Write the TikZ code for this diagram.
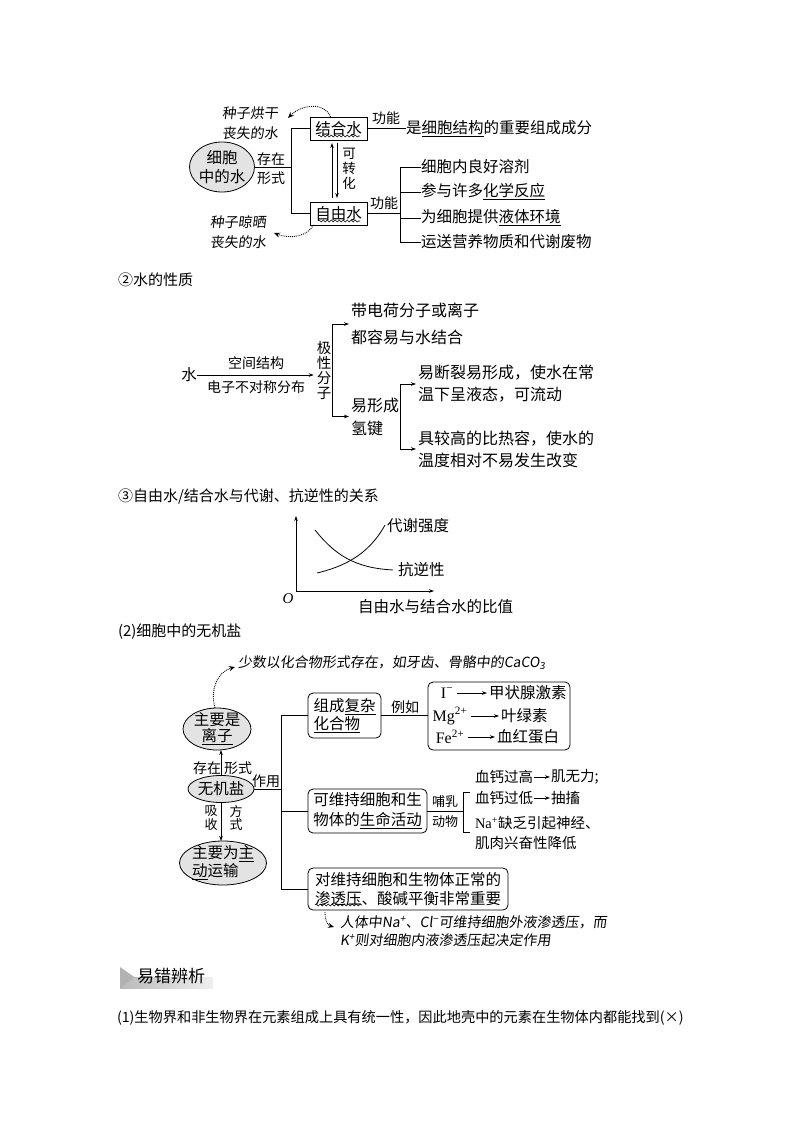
\documentclass[tikz,border=0pt]{standalone}
\usepackage{fontspec}
\setmainfont{Noto Sans CJK SC}
\newfontfamily\tnr{Liberation Serif}
\newfontfamily\hand{Noto Sans CJK SC}[FakeSlant=0.12]
\usetikzlibrary{shapes.geometric,arrows.meta,decorations.pathmorphing,calc}
\newcommand{\myfs}[2]{\fontsize{#1}{#2}\selectfont}
\tikzset{
  every node/.style={inner sep=0pt, outer sep=0pt, font=\myfs{15.5}{20}},
  lbl/.style={font=\myfs{14}{16}},
  hw/.style={font=\hand\myfs{14}{20}, align=center},
  oval/.style={ellipse, draw, fill=gray!22, line width=0.8pt, inner sep=0pt},
  sqbox/.style={draw, line width=0.8pt, inner sep=0pt},
  rbox/.style={draw, rounded corners=5pt, line width=0.8pt, inner sep=0pt},
  ln/.style={line width=0.8pt},
  arr/.style={line width=0.8pt, -{Stealth[length=5pt,width=3.5pt]}},
  dotarr/.style={line width=0.9pt, densely dotted, -{Stealth[length=6pt,width=5pt]}},
  wav/.style={decorate, decoration={snake, amplitude=1pt, segment length=4pt}, line width=0.6pt},
  hdr/.style={anchor=west, font=\myfs{15}{18}},
  mam/.style={anchor=west, font=\myfs{14.5}{20}},
}
\begin{document}
\begin{tikzpicture}[x=1pt,y=-1pt]
\useasboundingbox (0,0) rectangle (794,1123);
\fill[white] (0,0) rectangle (794,1123);

% ================= top: water in the cell =================
\node[oval, minimum width=65pt, minimum height=50pt] (cw) at (222,167) {};
\node[align=center, font=\myfs{15.5}{19}] (cwt) at (cw) {细胞\\中的水};
\node[sqbox, minimum width=57pt, minimum height=23pt] (jh) at (338.5,128.5) {结合水};
\node[sqbox, minimum width=57pt, minimum height=23pt] (zy) at (338.5,213.5) {自由水};
\draw[wav] ($(jh.south west)+(8,-4)$) -- ($(jh.south east)+(-7,-4)$);
\draw[wav] ($(zy.south west)+(8,-4)$) -- ($(zy.south east)+(-7,-4)$);

\coordinate (bus0) at (291,167);
\draw[ln] (cw.east) -- (bus0);
\draw[ln] (jh.west) -| (bus0);
\draw[ln] (zy.west) -| (bus0);
\node[lbl] (cz1) at (271,159) {存在};
\node[lbl] (xs1) at (271,178) {形式};

\draw[arr, shorten <=4pt, shorten >=3pt] ($(zy.north)+(-6.5,0)$) -- ($(jh.south)+(-6.5,0)$);
\draw[arr, shorten <=3pt, shorten >=4pt] ($(jh.south)+(-1.5,0)$) -- ($(zy.north)+(-1.5,0)$);
\node[align=center, font=\myfs{13.5}{15}] (kzh) at (349,169) {可\\转\\化};

\node[anchor=west] (f1) at (406,128.5) {是\underline{细胞结构}的重要组成成分};
\draw[ln] (jh.east) -- (f1.west);
\node[lbl] (gn1) at (386,118) {功能};
\node[lbl] (gn2) at (384,203) {功能};

\coordinate (br1) at (400,213.5);
\draw[ln] (zy.east) -- (br1);
\node[anchor=west] (g1) at (421,167) {细胞内良好溶剂};
\node[anchor=west] (g2) at (421,192) {参与许多\underline{化学反应}};
\node[anchor=west] (g3) at (421,218) {为细胞提供\underline{液体环境}};
\node[anchor=west] (g4) at (421,242) {运送营养物质和代谢废物};
\draw[ln] (g1.west) -- (g1.west -| br1) -- (g4.west -| br1) -- (g4.west);
\draw[ln] (g2.west) -- (g2.west -| br1);
\draw[ln] (g3.west) -- (g3.west -| br1);

\node[hw] (h1) at (250,123) {种子烘干\\丧失的水};
\draw[dotarr] ($(jh.north)+(-8,0)$) .. controls (325,102) and (302,104) .. ($(h1.east)+(10,-5)$);
\node[hw] (h2) at (238,232) {种子晾晒\\丧失的水};
\draw[dotarr] ($(zy.south)+(-25,0)$) .. controls (307,237) and (290,239) .. ($(h2.east)+(8,1)$);

% ================= water properties =================
\node[hdr] (s2) at (118,280) {②水的性质};
\node (w) at (189,375) {水};
\node[align=center, font=\myfs{14.5}{15}] (pol) at (324,370) {极\\性\\分\\子};
\draw[arr, shorten >=3pt] (w.east) -- (w.east -| pol.west);
\node[lbl] (kj) at (256,363) {空间结构};
\node[lbl] (dz) at (256,387) {电子不对称分布};

\node[anchor=west, align=left, font=\myfs{16}{27}] (p1) at (351,324) {带电荷分子或离子\\都容易与水结合};
\node[anchor=west, align=left, font=\myfs{16}{23}] (p2) at (351,416.5) {易形成\\氢键};
\coordinate (bk1) at (332,370);
\draw[arr, shorten >=2pt] (bk1) |- (p1.west);
\draw[arr, shorten >=2pt] (bk1) |- (p2.west);

\node[anchor=west, align=left, font=\myfs{16}{22}] (p3) at (418,384) {易断裂易形成，使水在常\\温下呈液态，可流动};
\node[anchor=west, align=left, font=\myfs{16}{22}] (p4) at (418,449) {具较高的比热容，使水的\\温度相对不易发生改变};
\coordinate (bk2) at (400,416.5);
\draw[arr, shorten >=2pt] (bk2) |- (p3.west);
\draw[arr, shorten >=2pt] (bk2) |- (p4.west);

% ================= graph =================
\node[hdr] (s3) at (118,496) {③自由水/结合水与代谢、抗逆性的关系};
\coordinate (O) at (296,591);
\coordinate (ytop) at (296,516);
\coordinate (xend) at (434,591);
\draw[arr] (O) -- (ytop);
\draw[arr] (O) -- (xend);
\node[font=\tnr\itshape\myfs{15}{16}] (Ol) at (288,599) {O};
\coordinate (c1a) at (317,573);
\coordinate (c1b) at (385,525);
\coordinate (c2a) at (315,530);
\coordinate (c2b) at (393,570);
\draw[ln] (c1a) .. controls (342,567) and (368,556) .. (c1b);
\draw[ln] (c2a) .. controls (335,555) and (355,568) .. (c2b);
\node[anchor=west] (lb1) at (387,526) {代谢强度};
\node[anchor=west] (lb2) at (398,570) {抗逆性};
\node[anchor=west] (lb3) at (358,607) {自由水与结合水的比值};

% ================= inorganic salts =================
\node[hdr] (s4) at (118,632) {(2)细胞中的无机盐};

\node[oval, minimum width=68pt, minimum height=42pt] (e1) at (217,729) {};
\node[align=center, font=\myfs{15.5}{16}] (e1t) at (e1) {主要是\\\underline{离子}};
\node[oval, minimum width=66pt, minimum height=27pt] (e2) at (221,789) {};
\node (e2t) at (e2) {无机盐};
\node[oval, minimum width=87pt, minimum height=44pt] (e3) at (223,863) {};
\node[align=left, font=\myfs{15.5}{18}] (e3t) at (e3) {主要为\underline{主}\\\underline{动}运输};

\draw[arr] (e2.north) -- (e2.north |- e1.south);
\draw[arr] (e2.south) -- (e2.south |- e3.north);
\node[lbl] (cz2) at (207,768) {存在};
\node[lbl] (xs2) at (238,768) {形式};
\node[align=center, font=\myfs{13}{13.5}] (xsh) at (211,818) {吸\\收};
\node[align=center, font=\myfs{13}{13.5}] (fsh) at (236,818) {方\\式};

\node[hw, anchor=west] (h3) at (238,663) {少数以化合物形式存在，如牙齿、骨骼中的CaCO\textsubscript{3}};
\draw[dotarr] ($(e1.north)+(-2,0)$) .. controls (210,690) and (217,672) .. ($(h3.west)+(-3,4)$);

\node[lbl] (zyy) at (266,781) {作用};
\coordinate (bus2) at (281,789);
\draw[ln] (e2.east) -- (bus2);

\node[rbox, minimum width=73pt, minimum height=45pt, align=left, font=\myfs{15.5}{18}] (b1) at (344.5,715.5) {组成\underline{复杂}\\\underline{化合物}};
\node[rbox, minimum width=119pt, minimum height=44pt, align=left, font=\myfs{15.5}{20}] (b3) at (367.5,811) {可维持细胞和生\\物体的\underline{生命活动}};
\node[rbox, minimum width=200pt, minimum height=42pt, align=left, font=\myfs{15.5}{19}] (b4) at (408,889) {对维持细胞和生物体正常的\\渗透压、酸碱平衡非常重要};
\draw[wav] ($(b4.south west)+(7,-5)$) -- ($(b4.south west)+(54,-5)$);

\draw[ln] (b1.west) -| (bus2);
\draw[ln] (b4.west) -| (bus2);
\draw[ln] (b3.west) -- (b3.west -| bus2);

\node[lbl] (lr) at (405,707) {例如};
\node[rbox, minimum width=142pt, minimum height=68pt] (b2) at (499,716) {};
\draw[ln] (b1.east) -- (b1.east -| b2.west);
\node[font=\tnr\myfs{16}{16}] (i1) at (447,693) {I\textsuperscript{−}};
\node[font=\tnr\myfs{16}{16}] (i2) at (450,716) {Mg\textsuperscript{2+}};
\node[font=\tnr\myfs{16}{16}] (i3) at (450,737) {Fe\textsuperscript{2+}};
\node[anchor=west] (k1) at (489,693) {甲状腺激素};
\node[anchor=west] (k2) at (501,716) {叶绿素};
\node[anchor=west] (k3) at (497,737) {血红蛋白};
\draw[arr, shorten <=4pt, shorten >=2pt] (i1.east) -- (k1.west);
\draw[arr, shorten <=4pt, shorten >=2pt] (i2.east) -- (k2.west);
\draw[arr, shorten <=4pt, shorten >=2pt] (i3.east) -- (k3.west);

\node[align=center, font=\myfs{13}{20}] (bru) at (445,812) {哺乳\\动物};
\coordinate (bk3) at (463,811);
\draw[ln] (b3.east) -- (bk3);
\draw[ln] ($(bk3)+(7,-19)$) -- ($(bk3)+(0,-19)$) -- ($(bk3)+(0,21)$) -- ($(bk3)+(7,21)$);
\node[mam] (m1) at (475,777) {血钙过高};
\node[mam] (n1) at (551,777) {肌无力;};
\node[mam] (m2) at (475,798) {血钙过低};
\node[mam] (n2) at (551,798) {抽搐};
\draw[arr, shorten <=1pt, shorten >=1pt] (m1.east) -- (n1.west);
\draw[arr, shorten <=1pt, shorten >=1pt] (m2.east) -- (n2.west);
\node[mam, align=left] (m3) at (475,833) {{\tnr Na\textsuperscript{+}}缺乏引起神经、\\肌肉兴奋性降低};

\node[hw, anchor=west, align=left, font=\hand\myfs{14}{18}] (h4) at (340,931) {人体中Na\textsuperscript{+}、Cl\textsuperscript{−}可维持细胞外液渗透压，而\\K\textsuperscript{+}则对细胞内液渗透压起决定作用};
\draw[dotarr] ($(b4.south west)+(17,2)$) .. controls (325,920) and (327,925) .. ($(h4.west)+(-6,-4)$);

% ================= bottom =================
\fill[left color=gray!55, right color=gray!12] (120,977) rectangle (213,988);
\fill[gray!60] (120,967) -- (135,977.5) -- (120,988) -- cycle;
\node[anchor=west, font=\myfs{17}{20}] (yc) at (137,976) {易错辨析};
\node[anchor=west, font=\myfs{14.2}{18}] (q1) at (117,1018) {(1)生物界和非生物界在元素组成上具有统一性，因此地壳中的元素在生物体内都能找到(×)};
\end{tikzpicture}
\end{document}
